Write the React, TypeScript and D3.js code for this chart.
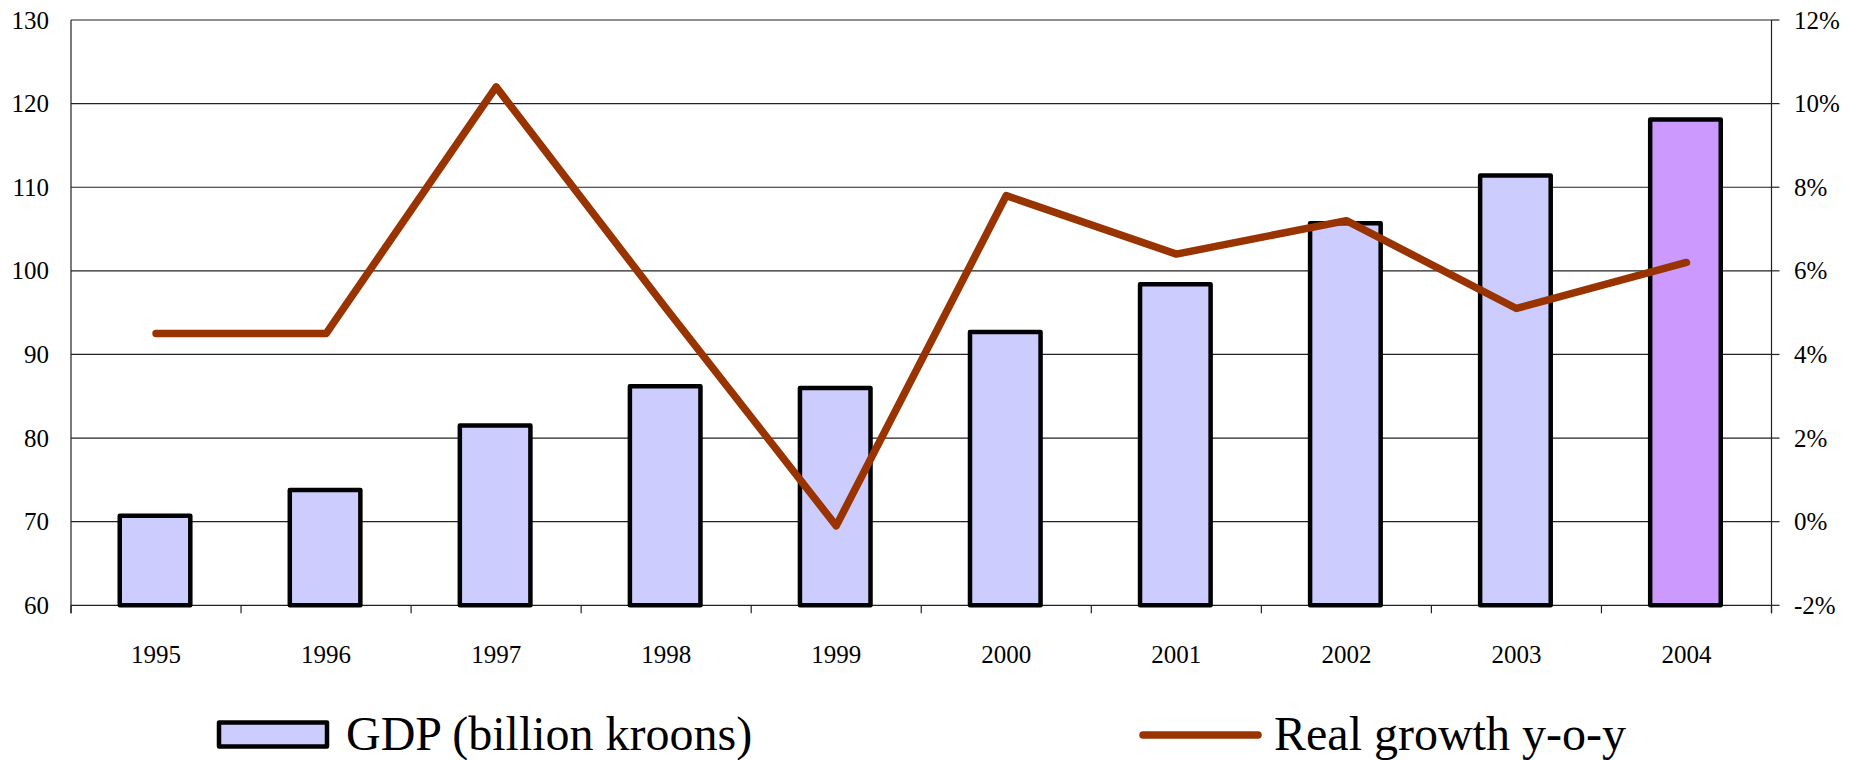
import React from "react";
import * as d3 from "d3";

const years = ["1995", "1996", "1997", "1998", "1999", "2000", "2001", "2002", "2003", "2004"];
const gdp = [70.7, 73.8, 81.5, 86.2, 86.0, 92.7, 98.4, 105.7, 111.4, 118.1];
const growth = [4.5, 4.5, 10.4, 5.1, -0.1, 7.8, 6.4, 7.2, 5.1, 6.2];
const leftTicks = [60, 70, 80, 90, 100, 110, 120, 130];
const rightTicks = [-2, 0, 2, 4, 6, 8, 10, 12];
const barColors = ["#CCCCFF", "#CCCCFF", "#CCCCFF", "#CCCCFF", "#CCCCFF", "#CCCCFF", "#CCCCFF", "#CCCCFF", "#CCCCFF", "#CC99FF"];
const legendLabels = ["GDP (billion kroons)", "Real growth y-o-y"];

const W = 1858;
const H = 760;
const L = 71;
const R = 1771.5;
const T = 20;
const B = 605.3;
const FONT = "Liberation Serif, DejaVu Serif, serif";

export default function App() {
  const x = d3.scaleBand<string>().domain(years).range([L, R]).padding(0);
  const yL = d3.scaleLinear().domain([60, 130]).range([B, T]);
  const yR = d3.scaleLinear().domain([-2, 12]).range([B, T]);
  const bw = x.bandwidth() * 0.415;
  const cx = (y: string) => (x(y) as number) + x.bandwidth() / 2;

  const line = d3
    .line<number>()
    .x((_, i) => cx(years[i]))
    .y((d) => yR(d));

  const boundaries = years.map((y) => x(y) as number).concat([R]);
  const txt = { fontFamily: FONT };

  return (
    <svg
      width={W}
      height={H}
      style={{ position: "absolute", left: 0, top: 0, background: "#fff", fontFamily: FONT }}
    >
      <rect x={0} y={0} width={W} height={H} fill="#fff" />
      {leftTicks.map((t) => (
        <line key={"g" + t} x1={L} x2={R} y1={yL(t)} y2={yL(t)} stroke="#222" strokeWidth={1.2} />
      ))}
      <line x1={L} x2={L} y1={T} y2={B + 8} stroke="#222" strokeWidth={1.2} />
      <line x1={R} x2={R} y1={T} y2={B + 8} stroke="#222" strokeWidth={1.2} />
      {rightTicks.map((t) => (
        <line key={"rt" + t} x1={R} x2={R + 8} y1={yR(t)} y2={yR(t)} stroke="#222" strokeWidth={1.2} />
      ))}
      {boundaries.map((b, i) => (
        <line key={"bt" + i} x1={b} x2={b} y1={B} y2={B + 8} stroke="#222" strokeWidth={1.2} />
      ))}
      {years.map((y, i) => (
        <rect
          key={"b" + y}
          x={cx(y) - bw / 2 - 1}
          y={yL(gdp[i])}
          width={bw}
          height={yL(60) - yL(gdp[i])}
          fill={barColors[i]}
          stroke="#000"
          strokeWidth={4.5}
          strokeLinejoin="round"
        />
      ))}
      <path
        d={line(growth) || ""}
        fill="none"
        stroke="#993300"
        strokeWidth={7.5}
        strokeLinejoin="round"
        strokeLinecap="round"
      />
      {leftTicks.map((t) => (
        <text key={"lt" + t} x={49} y={yL(t) + 8.5} fontSize={25} textAnchor="end" fill="#000" style={txt}>
          {t}
        </text>
      ))}
      {rightTicks.map((t) => (
        <text key={"rl" + t} x={1794} y={yR(t) + 8.5} fontSize={25} textAnchor="start" fill="#000" style={txt}>
          {t + "%"}
        </text>
      ))}
      {years.map((y) => (
        <text key={"xl" + y} x={cx(y)} y={663} fontSize={25} textAnchor="middle" fill="#000" style={txt}>
          {y}
        </text>
      ))}
      <rect x={219} y={722.5} width={108} height={24} fill="#CCCCFF" stroke="#000" strokeWidth={4.5} strokeLinejoin="round" />
      <text x={346} y={750} fontSize={48} fill="#000" style={txt}>
        {legendLabels[0]}
      </text>
      <line x1={1143} x2={1258} y1={735} y2={735} stroke="#993300" strokeWidth={7.5} strokeLinecap="round" />
      <text x={1274} y={750} fontSize={48} fill="#000" style={txt}>
        {legendLabels[1]}
      </text>
    </svg>
  );
}
